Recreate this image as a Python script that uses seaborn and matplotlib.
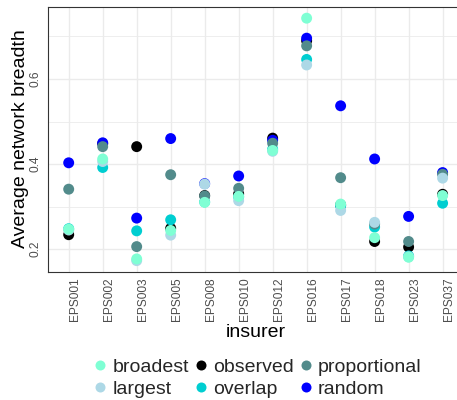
import matplotlib
matplotlib.use("Agg")
import matplotlib.pyplot as plt
from matplotlib.lines import Line2D
from matplotlib.ticker import FixedLocator
import pandas as pd
import seaborn as sns

# Insurers on the x axis
insurers = ["EPS001", "EPS002", "EPS003", "EPS005", "EPS008", "EPS010",
            "EPS012", "EPS016", "EPS017", "EPS018", "EPS023", "EPS037"]

# Average network breadth per insurer, one list per network scenario
observed     = [0.234, 0.448, 0.441, 0.249, 0.326, 0.330, 0.461, 0.690, 0.304, 0.218, 0.205, 0.329]
random_net   = [0.403, 0.450, 0.273, 0.460, 0.354, 0.372, 0.456, 0.696, 0.537, 0.412, 0.277, 0.380]
overlap      = [0.248, 0.392, 0.243, 0.269, 0.311, 0.323, 0.435, 0.646, 0.302, 0.252, 0.184, 0.308]
proportional = [0.341, 0.441, 0.206, 0.375, 0.325, 0.343, 0.449, 0.678, 0.368, 0.259, 0.218, 0.376]
largest      = [0.245, 0.406, 0.173, 0.233, 0.353, 0.314, 0.430, 0.633, 0.291, 0.263, 0.182, 0.367]
broadest     = [0.247, 0.412, 0.177, 0.244, 0.310, 0.324, 0.432, 0.743, 0.306, 0.227, 0.181, 0.326]

# Scenario names in plotting (stacking) order
series = {
    "observed": observed,
    "random": random_net,
    "overlap": overlap,
    "proportional": proportional,
    "largest": largest,
    "broadest": broadest,
}
legend_order = ["broadest", "largest", "observed", "overlap", "proportional", "random"]
palette = {
    "broadest": "#7FFFD4",
    "largest": "#ADD8E6",
    "observed": "#000000",
    "overlap": "#00CED1",
    "proportional": "#528B8B",
    "random": "#0000FF",
}

rows = []
for name, vals in series.items():
    for ins, v in zip(insurers, vals):
        rows.append({"insurer": ins, "breadth": v, "network": name})
df = pd.DataFrame(rows)

sns.set_style("white")
plt.rcParams["font.family"] = ["Liberation Sans", "DejaVu Sans"]

W, H = 457, 400
fig = plt.figure(figsize=(W / 100, H / 100), dpi=100)
left_px, right_px, top_px, bottom_px = 48.3, 463.0, 6.7, 271.7
ax = fig.add_axes([left_px / W, 1 - bottom_px / H,
                   (right_px - left_px) / W, (bottom_px - top_px) / H])

sns.scatterplot(data=df, x="insurer", y="breadth", hue="network",
                palette=palette, s=62, linewidth=0, legend=False, ax=ax,
                zorder=3)

ax.set_xlim(-0.6, len(insurers) - 0.4)
ax.set_ylim(0.147, 0.770)

# Light panel grid
ax.yaxis.set_major_locator(FixedLocator([0.2, 0.4, 0.6]))
ax.yaxis.set_minor_locator(FixedLocator([0.3, 0.5, 0.7]))
ax.grid(which="major", color="#EBEBEB", linewidth=1.0, zorder=0)
ax.grid(which="minor", axis="y", color="#EBEBEB", linewidth=0.6, zorder=0)
ax.set_axisbelow(True)

for sp in ax.spines.values():
    sp.set_color("#333333")
    sp.set_linewidth(0.8)

ax.tick_params(axis="both", which="major", length=2.2, width=0.6,
               color="#333333", labelcolor="#4D4D4D", labelsize=8.6)
ax.tick_params(axis="y", which="minor", length=0)
ax.tick_params(axis="x", pad=2.2)
ax.tick_params(axis="y", pad=2.4)

ax.set_yticklabels(["0.2", "0.4", "0.6"], rotation=90, va="center")
for lbl in ax.get_xticklabels():
    lbl.set_rotation(90)
    lbl.set_ha("left")
    lbl.set_va("top")

ax.set_xlabel("")
ax.set_ylabel("")
fig.text(255.7 / W, 1 - 337 / H, "insurer", ha="center", va="baseline",
         fontsize=14, color="black")
fig.text(21 / W, 1 - 139 / H, "Average network breadth", rotation=90,
         ha="center", va="center", fontsize=14, color="black")

handles = [Line2D([0], [0], marker="o", linestyle="", markersize=7.2,
                  markerfacecolor=palette[n], markeredgewidth=0)
           for n in legend_order]
fig.legend(handles, legend_order, ncol=3, loc="center",
           bbox_to_anchor=(258 / W, 1 - 378 / H), frameon=False,
           fontsize=14, handlelength=0.6, handletextpad=0.32,
           columnspacing=0.32, labelspacing=0.22, borderpad=0,
           borderaxespad=0)

fig.savefig("out.png", dpi=100)
